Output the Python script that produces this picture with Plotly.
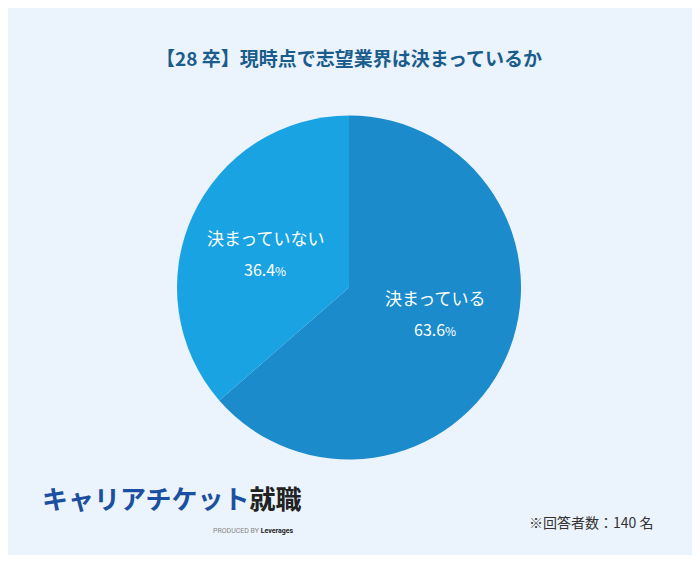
import plotly.graph_objects as go

labels = ["決まっている", "決まっていない"]
values = [63.6, 36.4]
colors = ["#1B8BCB", "#1AA3E2"]
title = "【28 卒】現時点で志望業界は決まっているか"
note = "※回答者数：140 名"

W, H = 700, 564
D = 8  # page offset compensation
def px(x, y):
    return (x - D) / W, 1 - (y - D) / H

fig = go.Figure()
fig.add_trace(go.Pie(
    labels=labels, values=values, sort=False, direction="clockwise", rotation=0,
    marker=dict(colors=colors, line=dict(width=0)),
    textinfo="none", hoverinfo="label+value", showlegend=False,
    domain=dict(x=[(177 - D) / W, (521 - D) / W], y=[1 - (460 - D) / H, 1 - (115 - D) / H]),
))

F = "Noto Sans CJK JP"
ann = []
pos = [(435, 297), (265, 237)]
for (x, y), l, v in zip(pos, labels, values):
    ax, ay = px(x, y)
    ann.append(dict(x=ax, y=ay, xref="paper", yref="paper", showarrow=False, text=l,
                    font=dict(family=F, size=17, color="white")))
    ax, ay = px(x, y + 32)
    ann.append(dict(x=ax, y=ay, xref="paper", yref="paper", showarrow=False,
                    text=f"{v}<span style='font-size:12px'>%</span>",
                    font=dict(family=F, size=16, color="white")))
tx, ty = px(349, 42)
ann.append(dict(x=tx, y=ty, xref="paper", yref="paper", showarrow=False, text=f"<b>{title}</b>",
                font=dict(family=F, size=19, color="#1A5C8C")))
nx, ny = px(655, 534)
ann.append(dict(x=nx, y=ny, xref="paper", yref="paper", showarrow=False, xanchor="right",
                text=note, font=dict(family=F, size=14, color="#333333")))
lx, ly = px(40, 518)
ann.append(dict(x=lx, y=ly, xref="paper", yref="paper", showarrow=False, xanchor="left",
                text="<b><span style='color:#1B4FA0'>キャリアチケット</span><span style='color:#222'>就職</span></b>",
                font=dict(family=F, size=26)))
sx, sy = px(295, 537)
ann.append(dict(x=sx, y=sy, xref="paper", yref="paper", showarrow=False, xanchor="right",
                text="<span style='color:#888'>PRODUCED BY</span> <b>Leverages</b>",
                font=dict(family="Roboto", size=7, color="#222")))

fig.update_layout(
    width=W, height=H, margin=dict(l=0, r=0, t=0, b=0),
    paper_bgcolor="white", plot_bgcolor="white", annotations=ann,
    shapes=[dict(type="rect", xref="paper", yref="paper", x0=0, x1=(695 - D) / W,
                 y0=1 - (555 - D) / H, y1=1,
                 fillcolor="#EBF3FC", line=dict(width=0), layer="below")],
)
fig.write_html("out.html")
